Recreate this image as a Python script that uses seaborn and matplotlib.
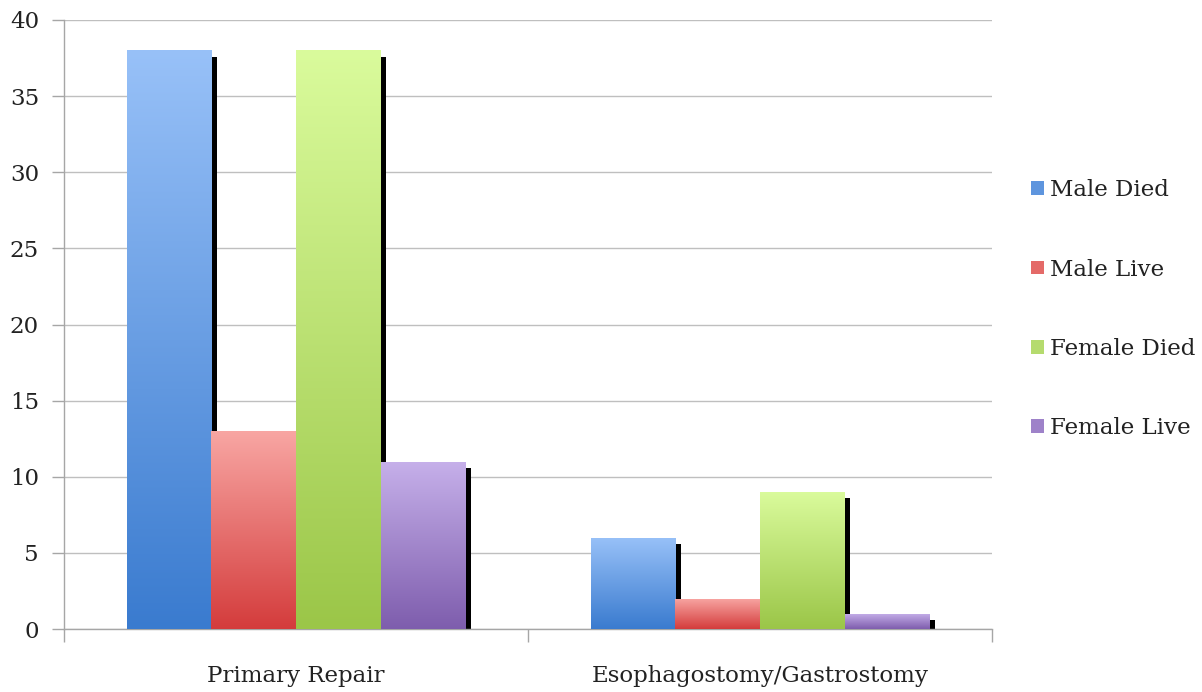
import numpy as np
import pandas as pd
import matplotlib
matplotlib.use("Agg")
import matplotlib.pyplot as plt
from matplotlib.patches import Rectangle
import matplotlib.colors as mcolors
import seaborn as sns

categories = ["Primary Repair", "Esophagostomy/Gastrostomy"]
series = ["Male Died", "Male Live", "Female Died", "Female Live"]
male_died = [38, 6]
male_live = [13, 2]
female_died = [38, 9]
female_live = [11, 1]

top_colors = ["#98C1F8", "#F8A6A3", "#DAFB9C", "#C6B0EA"]
bottom_colors = ["#3A7BCF", "#D43C3C", "#9BC648", "#7E5DAD"]
mid_colors = ["#5E95DE", "#E46A68", "#B5DB6E", "#9E82C9"]

df = pd.DataFrame({
    "category": categories * 4,
    "series": sum([[s] * len(categories) for s in series], []),
    "value": male_died + male_live + female_died + female_live,
})

sns.set_theme(style="white")
plt.rcParams["font.family"] = ["DejaVu Serif"]

fig = plt.figure(figsize=(12.02, 6.92), dpi=100)
ax = fig.add_axes([64 / 1202, 1 - 629 / 692, (992 - 64) / 1202, (629 - 20) / 692])

sns.barplot(data=df, x="category", y="value", hue="series", order=categories,
            hue_order=series, palette=mid_colors, width=0.73, gap=0,
            linewidth=0, saturation=1, ax=ax, zorder=3)

ax.set_ylim(0, 40)
ax.set_xlim(-0.5, 1.5)
ax.set_yticks(np.arange(0, 41, 5))
ax.yaxis.grid(True, color="#BFBFBF", linewidth=1.0, zorder=0)
ax.set_axisbelow(True)
ax.set_xlabel("")
ax.set_ylabel("")

for s in ["top", "right"]:
    ax.spines[s].set_visible(False)
for s in ["left", "bottom"]:
    ax.spines[s].set_color("#A6A6A6")
    ax.spines[s].set_linewidth(1.0)

ax.tick_params(axis="y", which="major", length=9, width=1, color="#A6A6A6",
               labelsize=16.5, pad=9, left=True)
ax.tick_params(axis="x", which="major", length=0, labelsize=16.5, pad=26)
ax.set_xticks([-0.5, 0.5, 1.5], minor=True)
ax.tick_params(axis="x", which="minor", length=9, width=1, color="#A6A6A6", bottom=True)
for lab in ax.get_yticklabels() + ax.get_xticklabels():
    lab.set_color("#222222")

# shadows and gradients
dx = 0.0115
dy = 0.4
bars = [p for p in ax.patches if isinstance(p, Rectangle) and p.get_height() > 0]
for i, p in enumerate(bars):
    si = i // len(categories)
    x0, w, h = p.get_x(), p.get_width(), p.get_height()
    if h - dy > 0:
        ax.add_patch(Rectangle((x0 + dx, 0), w, h - dy, facecolor="black",
                               edgecolor="none", zorder=2))
    cmap = mcolors.LinearSegmentedColormap.from_list(
        "g", [bottom_colors[si], top_colors[si]])
    grad = np.linspace(0, 1, 256).reshape(-1, 1)
    im = ax.imshow(grad, cmap=cmap, aspect="auto", origin="lower",
                   extent=[x0, x0 + w, 0, h], zorder=4, interpolation="bicubic")
    im.set_clip_path(p)
ax.set_xlim(-0.5, 1.5)
ax.set_ylim(0, 40)

sns.move_legend(ax, loc="center left", bbox_to_anchor=(1.02, 0.525), frameon=False,
                title=None, fontsize=16.5, handlelength=0.55, handleheight=0.55,
                handletextpad=0.25, labelspacing=2.5)
for t in ax.get_legend().get_texts():
    t.set_color("#222222")

fig.savefig("out.png", dpi=100)
